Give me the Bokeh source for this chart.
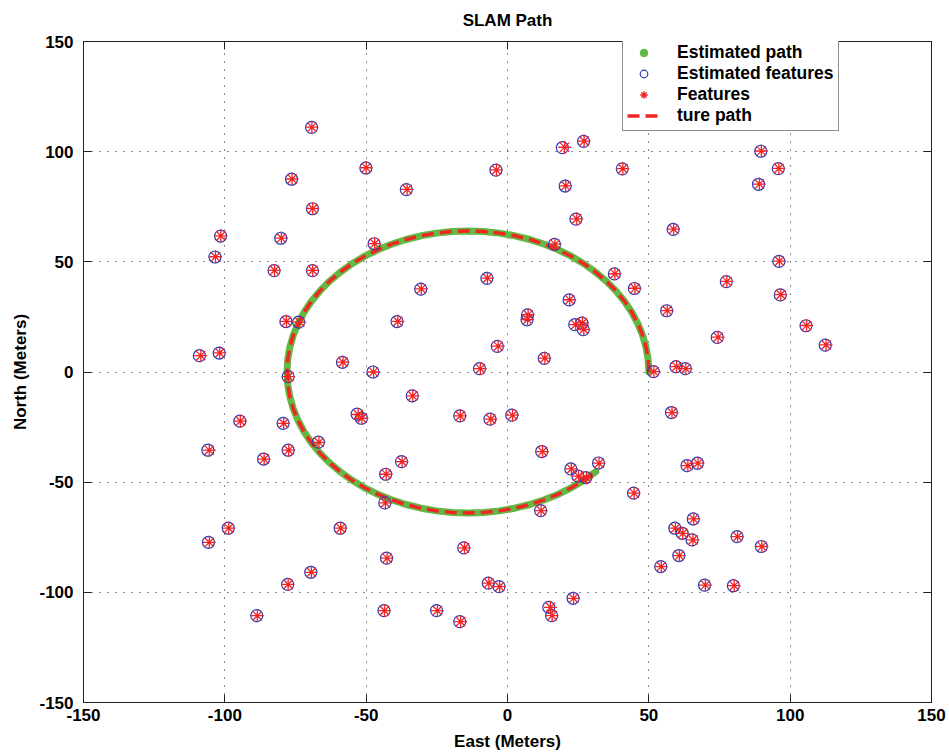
from bokeh.plotting import figure
from bokeh.models import LinearAxis, Range1d, FixedTicker, Legend, LegendItem
from bokeh.embed import file_html
from bokeh.resources import INLINE

# ---- data ----
tick_values = [-150, -100, -50, 0, 50, 100, 150]
tick_labels = ["-150", "-100", "-50", "0", "50", "100", "150"]

# path (estimated and true path follow the same arc in the picture)
path_x = [50.0, 49.76, 49.03, 47.82, 46.14, 44.0, 41.43, 38.43, 35.03, 31.25, 27.14, 22.71,
          18.0, 13.05, 7.89, 2.56, -2.89, -8.42, -14.0, -19.58, -25.11, -30.56, -35.89, -41.05,
          -46.0, -50.71, -55.14, -59.25, -63.03, -66.43, -69.43, -72.0, -74.14, -75.82, -77.03,
          -77.76, -78.0, -77.76, -77.03, -75.82, -74.14, -72.0, -69.43, -66.43, -63.03, -59.25,
          -55.14, -50.71, -46.0, -41.05, -35.89, -30.56, -25.11, -19.58, -14.0, -8.42, -2.89,
          2.56, 7.89, 13.05, 18.0, 22.71, 27.14, 31.25]
path_y = [0.0, 5.58, 11.11, 16.56, 21.89, 27.05, 32.0, 36.71, 41.14, 45.25, 49.03, 52.43,
          55.43, 58.0, 60.14, 61.82, 63.03, 63.76, 64.0, 63.76, 63.03, 61.82, 60.14, 58.0,
          55.43, 52.43, 49.03, 45.25, 41.14, 36.71, 32.0, 27.05, 21.89, 16.56, 11.11,
          5.58, 0.0, -5.58, -11.11, -16.56, -21.89, -27.05, -32.0, -36.71, -41.14, -45.25,
          -49.03, -52.43, -55.43, -58.0, -60.14, -61.82, -63.03, -63.76, -64.0, -63.76, -63.03,
          -61.82, -60.14, -58.0, -55.43, -52.43, -49.03, -45.25]

feat_x = [-69.2, -50.0, -76.2, -68.9, -101.4, -80.0, -103.3, -47.0, -82.4, -68.9,
          -3.9, -35.5, 20.2, 27.1, 40.8, 20.6, 24.5, 16.8, 89.8, 96.0,
          89.1, 58.8, 96.2, -78.2, -73.5, -108.5, -101.8, -58.2, -47.4, -77.4,
          -52.8, -51.5, -94.5, -79.2, -66.7, -105.5, -77.4, -86.1, 38.0, 45.1,
          -7.1, -30.5, 22.0, 7.3, 7.1, -38.8, 24.1, 26.5, 27.0, -3.3,
          13.2, -9.6, 51.8, -33.5, -16.7, -5.9, 1.8, 12.4, 22.6, 32.4,
          25.1, 27.9, -37.3, -42.9, 77.6, 96.7, 56.5, 74.5, 105.8, 112.7,
          59.8, 63.1, 58.2, 63.8, 67.4, -98.6, -105.5, -59.0, -69.4, -77.6,
          -88.5, -43.2, 11.9, 44.8, -15.2, -42.6, -6.6, -2.8, -43.5, -24.8,
          -16.6, 15.2, 15.8, 23.4, 65.9, 59.4, 62.0, 65.6, 81.4, 90.0,
          60.8, 54.4, 70.0, 80.2]
feat_y = [111.1, 92.7, 87.6, 74.2, 61.8, 60.8, 52.3, 58.3, 46.1, 46.1,
          91.7, 82.9, 102.0, 104.8, 92.3, 84.5, 69.5, 58.0, 100.3, 92.4,
          85.3, 64.8, 50.3, 23.0, 22.6, 7.4, 8.7, 4.5, 0.0, -2.1,
          -19.3, -21.0, -22.3, -23.3, -31.9, -35.5, -35.5, -39.5, 44.6, 38.0,
          42.6, 37.7, 32.8, 26.0, 23.8, 23.0, 21.5, 22.3, 19.3, 11.7,
          6.3, 1.5, 0.2, -10.8, -19.9, -21.4, -19.6, -36.1, -44.0, -41.4,
          -47.3, -48.0, -40.7, -46.4, 41.1, 35.1, 27.9, 15.8, 21.1, 12.3,
          2.4, 1.5, -18.4, -42.5, -41.4, -70.9, -77.3, -70.9, -90.9, -96.4,
          -110.6, -59.4, -62.9, -55.0, -79.8, -84.5, -95.8, -97.4, -108.3, -108.3,
          -113.3, -106.8, -110.6, -102.7, -66.7, -70.9, -73.2, -76.2, -74.7, -79.2,
          -83.3, -88.3, -96.7, -97.0]

est_x = [-69.3, -50.1, -76.4, -69.0, -101.5, -80.2, -103.5, -47.2, -82.6, -69.0,
         -4.1, -35.8, 19.4, 26.9, 40.6, 20.4, 24.2, 16.6, 89.6, 95.8,
         88.8, 58.6, 96.0, -78.4, -73.9, -109.0, -102.0, -58.4, -47.6, -77.6,
         -53.2, -51.7, -94.7, -79.4, -66.9, -106.0, -77.6, -86.3, 37.8, 44.9,
         -7.3, -30.7, 21.8, 7.1, 6.9, -39.1, 23.8, 26.3, 26.8, -3.6,
         13.0, -9.9, 51.6, -33.7, -16.9, -6.2, 1.5, 12.1, 22.4, 32.2,
         24.9, 27.7, -37.5, -43.1, 77.4, 96.5, 56.3, 74.2, 105.6, 112.4,
         59.6, 62.9, 58.0, 63.5, 67.2, -98.8, -105.8, -59.2, -69.6, -77.8,
         -88.7, -43.4, 11.7, 44.6, -15.5, -42.8, -6.8, -3.0, -43.7, -25.1,
         -16.9, 14.6, 15.6, 23.2, 65.7, 59.2, 61.8, 65.3, 81.2, 89.8,
         60.6, 54.2, 69.7, 79.9]
est_y = [111.0, 92.6, 87.5, 74.1, 61.7, 60.7, 52.2, 58.2, 46.0, 46.0,
         91.6, 82.8, 101.8, 104.7, 92.2, 84.4, 69.4, 57.9, 100.2, 92.3,
         85.2, 64.7, 50.2, 22.9, 22.6, 7.4, 8.6, 4.4, 0.0, -2.1,
         -19.1, -21.0, -22.3, -23.3, -31.8, -35.5, -35.5, -39.5, 44.5, 37.9,
         42.5, 37.6, 32.7, 25.9, 23.7, 22.9, 21.5, 22.2, 19.2, 11.6,
         6.2, 1.5, 0.2, -10.8, -19.9, -21.4, -19.6, -36.1, -44.0, -41.3,
         -47.2, -47.9, -40.7, -46.4, 41.0, 35.0, 27.8, 15.7, 21.0, 12.2,
         2.4, 1.5, -18.4, -42.5, -41.4, -70.9, -77.3, -70.9, -90.9, -96.4,
         -110.6, -59.4, -62.9, -55.0, -79.8, -84.5, -95.8, -97.4, -108.3, -108.3,
         -113.3, -106.8, -110.6, -102.7, -66.7, -70.9, -73.2, -76.2, -74.7, -79.2,
         -83.3, -88.3, -96.7, -97.0]

title_text = "SLAM Path"
x_label = "East (Meters)"
y_label = "North (Meters)"
legend_labels = ["Estimated path", "Estimated features", "Features", "ture path"]

# ---- styles ----
GREEN = "#63b944"
RED = "#f22424"
BLUE = "#2a3cb8"
FONT = "Liberation Sans"

p = figure(output_backend="svg", toolbar_location=None,
           width=949, height=753,
           x_range=Range1d(-150, 150), y_range=Range1d(-150, 150),
           min_border_left=83, min_border_right=18, min_border_top=40, min_border_bottom=48,
           background_fill_color="white", border_fill_color="white")

p.title.text = title_text
p.title.align = "center"
p.title.vertical_align = "top"
p.title.text_font = FONT
p.title.text_font_size = "17px"
p.title.text_font_style = "bold"
p.title.text_color = "black"
p.title.standoff = 20
p.title.offset = 0

p.outline_line_color = "#222222"
p.outline_line_width = 1

ticker = FixedTicker(ticks=tick_values)
overrides = {v: s for v, s in zip(tick_values, tick_labels)}
for ax in (p.xaxis[0], p.yaxis[0]):
    ax.ticker = ticker
    ax.major_label_overrides = overrides
    ax.major_tick_in = 8
    ax.major_tick_out = 0
    ax.minor_tick_line_color = None
    ax.axis_line_color = "#222222"
    ax.major_tick_line_color = "#222222"
    ax.major_label_text_font = FONT
    ax.major_label_text_font_size = "17px"
    ax.major_label_text_font_style = "bold"
    ax.major_label_text_color = "black"
    ax.axis_label_text_font = FONT
    ax.axis_label_text_font_size = "17px"
    ax.axis_label_text_font_style = "bold"
    ax.axis_label_text_color = "black"

p.xaxis.axis_label = x_label
p.yaxis.axis_label = y_label
p.xaxis.major_label_standoff = 6
p.xaxis.axis_label_standoff = 8
p.yaxis.major_label_standoff = 10
p.yaxis.axis_label_standoff = 6

for side in ("right", "above"):
    ax = LinearAxis(ticker=ticker, major_tick_in=8, major_tick_out=0,
                    minor_tick_line_color=None, axis_line_color="#222222",
                    major_tick_line_color="#222222",
                    major_label_text_font_size="1px", major_label_text_color=None,
                    major_label_standoff=0)
    p.add_layout(ax, side)

for g in (p.xgrid[0], p.ygrid[0]):
    g.ticker = ticker
    g.grid_line_color = "black"
    g.grid_line_dash = "1 7"
    g.grid_line_width = 1
    g.grid_line_alpha = 0.9

# estimated path (green dots forming a band)
p.line(path_x, path_y, line_width=7, color=GREEN, line_join="round", line_cap="round")
r_est_path = p.scatter(path_x, path_y, size=4, color=GREEN, marker="circle")
# true path
r_true_path = p.line(path_x, path_y, line_width=3.5, color=RED, line_dash="12 6",
                     line_join="round")
# features
r_est_feat = p.scatter(est_x, est_y, marker="circle", size=12, fill_color=None,
                       line_color=BLUE, line_width=1.2)
r_feat = p.scatter(feat_x, feat_y, marker="asterisk", size=13, line_color=RED, line_width=1.3)

legend = Legend(items=[
    LegendItem(label=legend_labels[0], renderers=[r_est_path]),
    LegendItem(label=legend_labels[1], renderers=[r_est_feat]),
    LegendItem(label=legend_labels[2], renderers=[r_feat]),
    LegendItem(label=legend_labels[3], renderers=[r_true_path]),
], location=(539, 571))
legend.label_text_font = FONT
legend.label_text_font_size = "17.5px"
legend.label_text_font_style = "bold"
legend.label_text_color = "black"
legend.border_line_color = "#222222"
legend.border_line_width = 1
legend.background_fill_alpha = 1
legend.padding = 4
legend.margin = 0
legend.spacing = 0
legend.glyph_height = 19
legend.label_height = 19
legend.glyph_width = 33
legend.label_standoff = 17
p.add_layout(legend)

open("out.html", "w").write(file_html(p, INLINE))
